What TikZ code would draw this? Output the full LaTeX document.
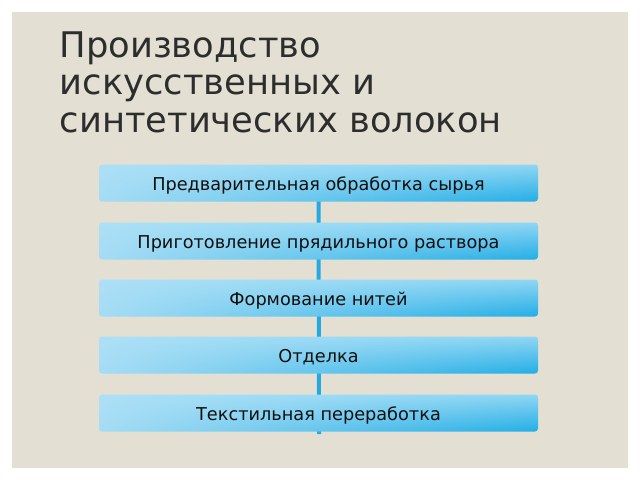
\documentclass[tikz,border=0pt]{standalone}
\usepackage{fontspec}
\usetikzlibrary{backgrounds}
\setmainfont{DejaVu Sans}
\definecolor{pagebg}{RGB}{227,223,211}
\definecolor{titlecol}{RGB}{45,45,45}
\definecolor{linecol}{RGB}{38,168,224}
\definecolor{boxtext}{RGB}{15,15,15}
\pgfdeclarefunctionalshading{boxshade}{\pgfpoint{-26bp}{-26bp}}{\pgfpoint{26bp}{26bp}}{}{
  25 add 50 div exch 25 add 50 div exch
  exch
  2 copy exch dup 0.400 mul -0.514 add 3 -1 roll mul exch 0.028 mul add 0.647 add
  3 1 roll
  2 copy exch dup 0.142 mul -0.181 add 3 -1 roll mul exch 0.015 mul add 0.863 add
  3 1 roll
  2 copy exch dup 0.043 mul -0.055 add 3 -1 roll mul exch 0.008 mul add 0.957 add
  3 1 roll pop pop
}
\tikzset{
  stepbox/.style={shade, shading=boxshade, rounded corners=3pt,
    minimum width=439pt, minimum height=37pt, inner sep=0pt,
    text height=15.6pt, text depth=0.2pt,
    text=boxtext, font=\fontsize{17.7}{20}\selectfont},
  titleline/.style={anchor=base west, inner sep=0pt, text=titlecol,
    font=\fontsize{35.3}{40}\selectfont},
  conn/.style={draw=linecol, line width=4pt}
}
\begin{document}
\begin{tikzpicture}[x=1pt,y=-1pt]
\useasboundingbox (0,0) rectangle (640,480);
\node[titleline] (t1) at (59.5,57.3) {Производство};
\node[titleline] (t2) at (59.5,94.8) {искусственных и};
\node[titleline] (t3) at (59.5,132.3) {синтетических волокон};
\node[stepbox] (b1) at (318.5,183) {Предварительная обработка сырья};
\node[stepbox] (b2) at (318.5,241) {Приготовление прядильного раствора};
\node[stepbox] (b3) at (318.5,298) {Формование нитей};
\node[stepbox] (b4) at (318.5,355) {Отделка};
\node[stepbox] (b5) at (318.5,413) {Текстильная переработка};
\coordinate (lineend) at (319,434);
\begin{scope}[on background layer]
\fill[white] (0,0) rectangle (640,480);
\fill[pagebg] (12,12) rectangle (628,468);
\draw[conn] (b1.center) -- (lineend);
\end{scope}
\end{tikzpicture}
\end{document}
